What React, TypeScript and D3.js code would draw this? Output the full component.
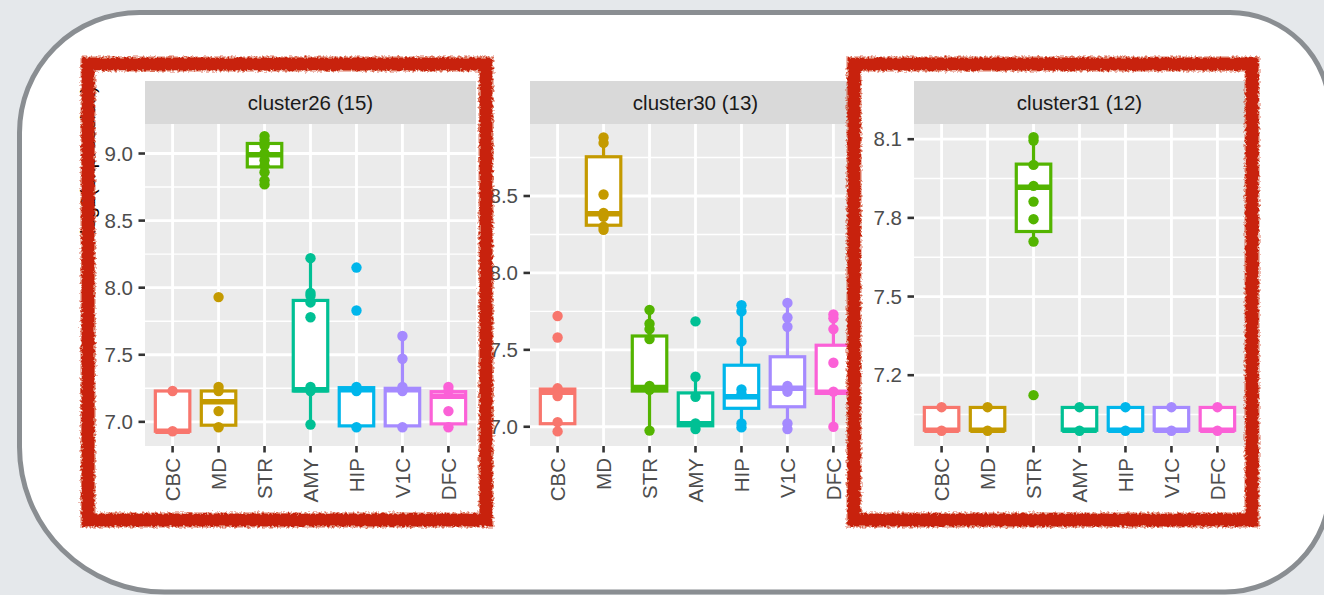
import React, { useEffect } from 'react';
import * as d3 from 'd3';

// Brain regions shown on every facet, with ggplot's default hue palette
const regions = ['CBC', 'MD', 'STR', 'AMY', 'HIP', 'V1C', 'DFC'];
const regionColors = ['#F8766D', '#C49A00', '#53B400', '#00C094', '#00B6EB', '#A58AFF', '#FB61D7'];

// Box summaries per region: [lower whisker, Q1, median, Q3, upper whisker]
// cluster26
const c26Title = 'cluster26 (15)';
const c26Domain = [6.82, 9.22];
const c26Ticks = [7.0, 7.5, 8.0, 8.5, 9.0];
const c26Minor = [7.25, 7.75, 8.25, 8.75];
const c26Boxes = [
  [6.93, 6.93, 6.93, 7.23, 7.23],
  [6.96, 6.975, 7.15, 7.23, 7.26],
  [8.77, 8.9, 8.99, 9.075, 9.13],
  [6.98, 7.23, 7.24, 7.905, 8.22],
  [6.96, 6.97, 7.24, 7.255, 7.26],
  [6.96, 6.97, 7.24, 7.25, 7.64],
  [6.96, 6.985, 7.19, 7.225, 7.26],
];
const c26Points = [
  [7.23, 6.93],
  [7.93, 7.26, 7.23, 7.08, 6.96],
  [9.13, 9.1, 9.06, 9.0, 8.95, 8.91, 8.86, 8.8, 8.77],
  [8.22, 7.96, 7.94, 7.89, 7.78, 7.26, 7.23, 6.98],
  [8.15, 7.83, 7.26, 7.23, 6.96],
  [7.64, 7.47, 7.26, 7.23, 6.96],
  [7.26, 7.23, 7.08, 6.96],
];

// cluster30
const c30Title = 'cluster30 (13)';
const c30Domain = [6.875, 8.968];
const c30Ticks = [7.0, 7.5, 8.0, 8.5];
const c30Minor = [7.25, 7.75, 8.25, 8.75];
const c30Boxes = [
  [6.97, 7.02, 7.225, 7.245, 7.25],
  [8.28, 8.31, 8.385, 8.755, 8.88],
  [6.975, 7.232, 7.255, 7.59, 7.76],
  [6.985, 7.006, 7.02, 7.22, 7.325],
  [7.0, 7.12, 7.195, 7.4, 7.79],
  [6.985, 7.13, 7.25, 7.455, 7.805],
  [7.0, 7.217, 7.225, 7.53, 7.73],
];
const c30Points = [
  [7.72, 7.58, 7.25, 7.2, 7.03, 6.97],
  [8.88, 8.845, 8.51, 8.39, 8.365, 8.3, 8.28],
  [7.76, 7.67, 7.635, 7.57, 7.265, 7.24, 6.975],
  [7.685, 7.325, 7.195, 7.022, 6.985],
  [7.79, 7.75, 7.555, 7.243, 7.213, 7.022, 6.996],
  [7.805, 7.71, 7.65, 7.265, 7.228, 7.022, 6.985],
  [7.73, 7.705, 7.635, 7.416, 7.228, 7.0],
];

// cluster31
const c31Title = 'cluster31 (12)';
const c31Domain = [6.93, 8.158];
const c31Ticks = [7.2, 7.5, 7.8, 8.1];
const c31Minor = [7.05, 7.35, 7.65, 7.95];
const c31Boxes = [
  [6.99, 6.99, 6.99, 7.077, 7.077],
  [6.99, 6.99, 6.99, 7.077, 7.077],
  [7.71, 7.748, 7.917, 8.005, 8.105],
  [6.99, 6.99, 6.99, 7.077, 7.077],
  [6.99, 6.99, 6.99, 7.077, 7.077],
  [6.99, 6.99, 6.99, 7.077, 7.077],
  [6.99, 6.99, 6.99, 7.077, 7.077],
];
const c31Points = [
  [7.078, 6.988],
  [7.078, 6.988],
  [8.108, 8.095, 8.002, 7.922, 7.862, 7.795, 7.71, 7.124],
  [7.078, 6.988],
  [7.078, 6.988],
  [7.078, 6.988],
  [7.078, 6.988],
];

const yTitle = 'log2(expression)';

// Layout
const W = 1324;
const H = 595;
const PANEL_W = 331;
const STRIP_TOP = 81;
const PANEL_TOP = 124;
const PANEL_BOTTOM = 446;
const FONT = '"Liberation Sans", Arial, Helvetica, sans-serif';
const TEXT_SIZE = 20.5;
const fmt = d3.format('.1f');

type PanelProps = {
  left: number;
  title: string;
  domain: number[];
  ticks: number[];
  minor: number[];
  boxes: number[][];
  points: number[][];
};

function Facet({ left, title, domain, ticks, minor, boxes, points }: PanelProps) {
  const x = d3.scalePoint<string>().domain(regions).range([left, left + PANEL_W]).padding(0.6);
  const y = d3.scaleLinear().domain(domain).range([PANEL_BOTTOM, PANEL_TOP]);
  const step = x.step();
  const boxW = step * 0.75;
  const color = d3.scaleOrdinal<string, string>().domain(regions).range(regionColors);

  return (
    <g>
      {/* strip */}
      <rect x={left} y={STRIP_TOP} width={PANEL_W} height={PANEL_TOP - STRIP_TOP} fill="#D9D9D9" />
      <text
        x={left + PANEL_W / 2}
        y={(STRIP_TOP + PANEL_TOP) / 2}
        dy="0.35em"
        textAnchor="middle"
        fontFamily={FONT}
        fontSize={TEXT_SIZE}
        fill="#1A1A1A"
      >
        {title}
      </text>

      {/* panel background and grid */}
      <rect x={left} y={PANEL_TOP} width={PANEL_W} height={PANEL_BOTTOM - PANEL_TOP} fill="#EBEBEB" />
      {minor.map((v) => (
        <line key={'mi' + v} x1={left} x2={left + PANEL_W} y1={y(v)} y2={y(v)} stroke="#fff" strokeWidth={1.4} />
      ))}
      {ticks.map((v) => (
        <line key={'ma' + v} x1={left} x2={left + PANEL_W} y1={y(v)} y2={y(v)} stroke="#fff" strokeWidth={2.8} />
      ))}
      {regions.map((r) => (
        <line key={'vx' + r} x1={x(r)} x2={x(r)} y1={PANEL_TOP} y2={PANEL_BOTTOM} stroke="#fff" strokeWidth={2.8} />
      ))}

      {/* y axis */}
      {ticks.map((v) => (
        <g key={'yt' + v}>
          <line x1={left - 6.5} x2={left} y1={y(v)} y2={y(v)} stroke="#333" strokeWidth={2.6} />
          <text
            x={left - 12}
            y={y(v)}
            dy="0.35em"
            textAnchor="end"
            fontFamily={FONT}
            fontSize={TEXT_SIZE}
            fill="#4D4D4D"
          >
            {fmt(v)}
          </text>
        </g>
      ))}

      {/* x axis */}
      {regions.map((r) => (
        <g key={'xt' + r}>
          <line x1={x(r)} x2={x(r)} y1={PANEL_BOTTOM} y2={PANEL_BOTTOM + 6.5} stroke="#333" strokeWidth={2.6} />
          <text
            transform={`translate(${x(r)},${PANEL_BOTTOM + 12}) rotate(-90)`}
            dy="0.35em"
            textAnchor="end"
            fontFamily={FONT}
            fontSize={TEXT_SIZE}
            fill="#4D4D4D"
          >
            {r}
          </text>
        </g>
      ))}

      {/* boxplots */}
      {regions.map((r, i) => {
        const [lo, q1, med, q3, hi] = boxes[i];
        const cx = x(r) as number;
        const c = color(r);
        return (
          <g key={'bx' + r}>
            <line x1={cx} x2={cx} y1={y(hi)} y2={y(q3)} stroke={c} strokeWidth={3.2} />
            <line x1={cx} x2={cx} y1={y(q1)} y2={y(lo)} stroke={c} strokeWidth={3.2} />
            <rect
              x={cx - boxW / 2}
              y={y(q3)}
              width={boxW}
              height={Math.max(0, y(q1) - y(q3))}
              fill="#fff"
              stroke={c}
              strokeWidth={3.2}
            />
            <line x1={cx - boxW / 2} x2={cx + boxW / 2} y1={y(med)} y2={y(med)} stroke={c} strokeWidth={5.5} />
          </g>
        );
      })}

      {/* individual values */}
      {regions.map((r, i) =>
        points[i].map((v, j) => <circle key={'pt' + r + j} cx={x(r)} cy={y(v)} r={5.2} fill={color(r)} />)
      )}
    </g>
  );
}

function roundedPath(x0: number, y0: number, x1: number, y1: number, tl: number, tr: number, br: number, bl: number) {
  return (
    `M${x0 + tl},${y0} H${x1 - tr} A${tr},${tr} 0 0 1 ${x1},${y0 + tr} ` +
    `V${y1 - br} A${br},${br} 0 0 1 ${x1 - br},${y1} H${x0 + bl} ` +
    `A${bl},${bl} 0 0 1 ${x0},${y1 - bl} V${y0 + tl} A${tl},${tl} 0 0 1 ${x0 + tl},${y0} Z`
  );
}

export default function App() {
  useEffect(() => {
    document.body.style.margin = '0';
  }, []);

  const red = '#C8220A';

  return (
    <svg
      width={W}
      height={H}
      viewBox={`0 0 ${W} ${H}`}
      style={{ position: 'absolute', left: 0, top: 0, display: 'block' }}
    >
      <defs>
        <filter id="rough" x="-3%" y="-3%" width="106%" height="106%">
          <feTurbulence type="fractalNoise" baseFrequency="0.4" numOctaves="2" seed="7" result="noise" />
          <feDisplacementMap in="SourceGraphic" in2="noise" scale="5" xChannelSelector="R" yChannelSelector="G" result="disp" />
          <feGaussianBlur in="disp" stdDeviation="0.45" />
        </filter>
      </defs>

      <rect x={0} y={0} width={W} height={H} fill="#E5E8EB" />
      <path d={roundedPath(19.5, 12.5, 1330, 592, 120, 100, 105, 145)} fill="#fff" stroke="#8A8E92" strokeWidth={5} />

      {/* y-axis title of the first plot */}
      <text
        transform="translate(95,160) rotate(-90)"
        textAnchor="middle"
        fontFamily={FONT}
        fontSize={20}
        fill="#000"
      >
        {yTitle}
      </text>

      <Facet left={145} title={c26Title} domain={c26Domain} ticks={c26Ticks} minor={c26Minor} boxes={c26Boxes} points={c26Points} />
      <Facet left={530} title={c30Title} domain={c30Domain} ticks={c30Ticks} minor={c30Minor} boxes={c30Boxes} points={c30Points} />

      {/* third plot sits on a white card over the second */}
      <rect x={854} y={64} width={398} height={456} fill="#fff" />
      <Facet left={914} title={c31Title} domain={c31Domain} ticks={c31Ticks} minor={c31Minor} boxes={c31Boxes} points={c31Points} />

      {/* hand-drawn highlight frames */}
      <g filter="url(#rough)" fill="none">
        <rect x={88} y={64} width={398} height={456} stroke={red} strokeWidth={16} opacity={0.3} />
        <rect x={88} y={64} width={398} height={456} stroke={red} strokeWidth={13} />
        <rect x={854} y={64} width={398} height={456} stroke={red} strokeWidth={16} opacity={0.3} />
        <rect x={854} y={64} width={398} height={456} stroke={red} strokeWidth={13} />
      </g>
    </svg>
  );
}
